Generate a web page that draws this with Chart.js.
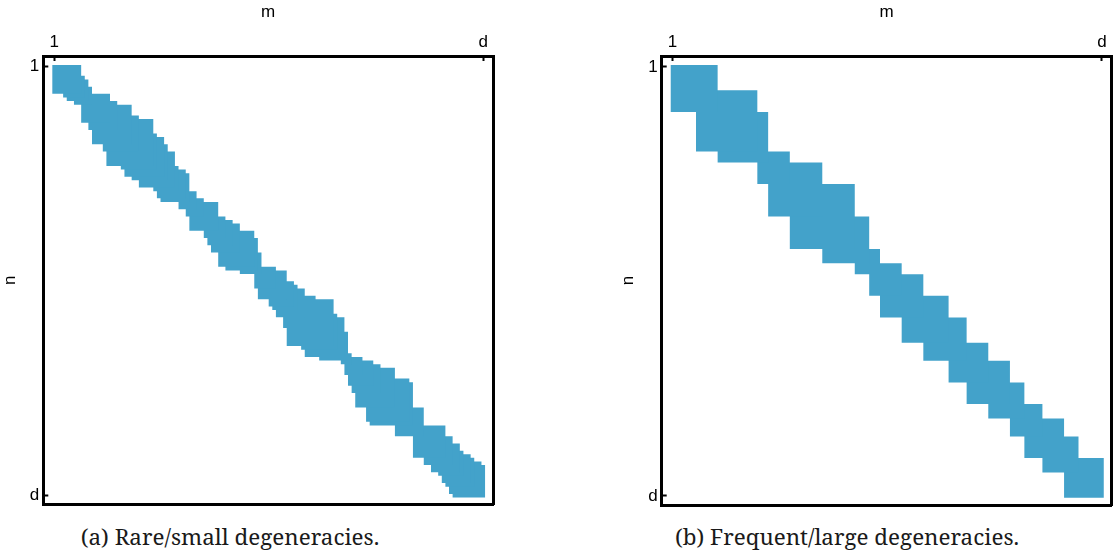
<!DOCTYPE html>
<html>
<head>
<meta charset="utf-8">
<script src="https://cdn.jsdelivr.net/npm/chart.js@4/dist/chart.umd.min.js"></script>
<style>
html, body { margin: 0; padding: 0; background: #fff; overflow: hidden; width: 1116px; height: 556px; }
.panel { position: absolute; top: 0; height: 510px; }
#wa { left: 0; width: 560px; }
#wb { left: 618px; width: 498px; }
.cap { position: absolute; top: 526px; font-family: 'Noto Serif', 'DejaVu Serif', serif; font-size: 22.4px; line-height: 22px;
       color: #1a1a1a; white-space: nowrap; transform: translateX(-50%); }
</style>
</head>
<body>
<div class="panel" id="wa"><canvas id="ca"></canvas></div>
<div class="panel" id="wb"><canvas id="cb"></canvas></div>
<div class="cap" id="capA" style="left:230px"></div>
<div class="cap" id="capB" style="left:847px"></div>
<script>
// ---- data (matrix index units, d = 120) ----
const tickValues = [0.5, 119.5];
const tickLabels = ['1', 'd'];
const xTitle = 'm';
const yTitle = 'n';
const captionA = '(a) Rare/small degeneracies.';
const captionB = '(b) Frequent/large degeneracies.';

// panel (a): diagonal square blocks [start, end] x [start, end]
const blockStartA = [0, 3, 4, 6, 8, 10, 11, 14, 15, 19, 20, 22, 24, 28, 29, 30, 35, 37, 38, 42, 43, 44, 46, 48, 52,
                     56, 57, 60, 61, 62, 64, 65, 69, 70, 74, 80, 81, 82, 83, 84, 87, 88, 95, 100, 103, 105, 107, 108, 109, 110, 111];
const blockEndA   = [8, 9, 10, 11, 16, 18, 22, 24, 28, 29, 31, 32, 34, 35, 37, 38, 40, 42, 46, 48, 50, 52, 56, 57, 58,
                     62, 65, 67, 68, 70, 73, 78, 79, 81, 82, 83, 86, 89, 91, 95, 99, 100, 103, 109, 111, 113, 114, 116, 117, 119, 120];

// panel (b)
const blockStartB = [0, 7, 13, 24, 27, 33, 42, 51, 55, 58, 64, 70, 77, 82, 88, 94, 98, 103, 109];
const blockEndB   = [13, 24, 27, 33, 42, 51, 55, 58, 64, 70, 77, 82, 88, 94, 98, 103, 109, 113, 120];

// ---- style ----
const BLUE = 'rgb(67,162,202)';
const SANS = "'Liberation Sans', Arial, sans-serif";
const X_MIN = -2.5, X_MAX = 122.2;
const Y_MIN = -2.5, Y_MAX = 122.0;

document.getElementById('capA').textContent = captionA;
document.getElementById('capB').textContent = captionB;

function makeChart(id, starts, ends, cfg) {
  const datasets = starts.map((s, i) => ({
    data: [{x: s, y: s}, {x: s, y: ends[i]}, {x: ends[i], y: ends[i]}, {x: ends[i], y: s}],
    fill: 'shape',
    backgroundColor: BLUE,
    borderColor: 'rgba(0,0,0,0)',
    borderWidth: 0,
    pointRadius: 0,
    pointHoverRadius: 0,
    tension: 0
  }));
  const frame = {display: true, color: '#000', width: 3};
  const tickFont = {family: SANS, size: 17};
  const tickGrid = {drawOnChartArea: false, drawTicks: true, tickLength: -5, tickWidth: 2, tickColor: '#000'};
  const setTicks = s => { s.ticks = tickValues.map(v => ({value: v})); };
  const labelCb = (v, i) => tickLabels[i];
  const hidden = {display: false};
  const noGrid = {drawOnChartArea: false, drawTicks: false};
  const noPad = s => { s.paddingTop = 0; s.paddingBottom = 0; s.paddingLeft = 0; s.paddingRight = 0; };

  return new Chart(document.getElementById(id), {
    type: 'line',
    data: {datasets},
    options: {
      responsive: true,
      maintainAspectRatio: false,
      animation: false,
      events: [],
      layout: {padding: cfg.pad},
      plugins: {legend: {display: false}, tooltip: {enabled: false}},
      scales: {
        x: {
          type: 'linear', position: 'top', min: X_MIN, max: X_MAX,
          afterBuildTicks: setTicks,
          ticks: {callback: labelCb, font: tickFont, color: '#000', padding: 8, maxRotation: 0, autoSkip: false},
          grid: tickGrid, border: frame,
          title: {display: true, text: xTitle, font: {family: SANS, size: 17}, color: '#000', padding: {top: 2, bottom: 0}},
          afterFit: s => { s.height = cfg.top; noPad(s); }
        },
        y: {
          type: 'linear', position: 'left', reverse: true, min: Y_MIN, max: Y_MAX,
          afterBuildTicks: setTicks,
          ticks: {callback: labelCb, font: tickFont, color: '#000', padding: 9, maxRotation: 0, autoSkip: false},
          grid: tickGrid, border: frame,
          title: {display: true, text: yTitle, font: {family: SANS, size: 17}, color: '#000', padding: {top: 0, bottom: 0}},
          afterFit: s => { s.width = cfg.left; noPad(s); }
        },
        x2: {
          type: 'linear', position: 'bottom', min: X_MIN, max: X_MAX,
          ticks: hidden, grid: noGrid, border: frame,
          afterFit: s => { s.height = 0; noPad(s); }
        },
        y2: {
          type: 'linear', position: 'right', min: Y_MIN, max: Y_MAX,
          ticks: hidden, grid: noGrid, border: frame,
          afterFit: s => { s.width = 0; noPad(s); }
        }
      }
    }
  });
}

makeChart('ca', blockStartA, blockEndA, {left: 43.3, top: 56, pad: {left: 0, top: 0, right: 67, bottom: 5.3}});
makeChart('cb', blockStartB, blockEndB, {left: 43.7, top: 56, pad: {left: 0, top: 0, right: 4.3, bottom: 5}});
</script>
</body>
</html>
